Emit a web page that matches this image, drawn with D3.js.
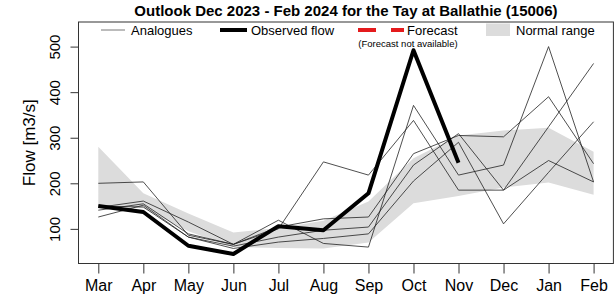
<!DOCTYPE html>
<html>
<head>
<meta charset="utf-8">
<script src="https://cdnjs.cloudflare.com/ajax/libs/d3/7.8.5/d3.min.js"></script>
<style>
  body { margin: 0; background: #fff; }
  svg { font-family: 'Liberation Sans', Arial, sans-serif; }
</style>
</head>
<body>
<svg id="chart" width="614" height="301"></svg>
<script>
let months = ['Mar', 'Apr', 'May', 'Jun', 'Jul', 'Aug', 'Sep', 'Oct', 'Nov', 'Dec', 'Jan', 'Feb']
let yTicks = [100, 200, 300, 400, 500]

let observed = [150, 137, 63, 45, 106, 97, 178, 492, 245]

let normalUpper = [280, 178, 134, 92, 102, 118, 160, 255, 305, 316, 322, 269]
let normalLower = [150, 145, 95, 60, 58, 57, 70, 156, 172, 191, 202, 175]

let analogue1 = [200, 203, 86, 66, 119, 68, 60, 371, 218, 240, 500, 203]
let analogue2 = [147, 161, 115, 66, 100, 247, 218, 338, 185, 185, 324, 463]
let analogue3 = [141, 155, 89, 66, 104, 122, 126, 265, 305, 302, 390, 243]
let analogue4 = [126, 152, 82, 62, 82, 97, 104, 240, 309, 185, 250, 203]
let analogue5 = [150, 148, 82, 57, 71, 79, 89, 205, 290, 111, 224, 335]
let analogues = [analogue1, analogue2, analogue3, analogue4, analogue5]

let svg = d3.select('#chart')
let box = { left: 78.5, right: 613.4, top: 22, bottom: 263.5 }

let x = d3.scaleLinear().domain([0.56, 12.44]).range([box.left, box.right])
let y = d3.scaleLinear().domain([24, 554]).range([box.bottom, box.top])

// normal range band
let band = d3.area()
  .x((d, i) => x(i + 1))
  .y0((d, i) => y(normalLower[i]))
  .y1(d => y(d))

svg.append('path')
  .datum(normalUpper)
  .attr('d', band)
  .attr('fill', '#dcdcdc')

let line = d3.line()
  .x((d, i) => x(i + 1))
  .y(d => y(d))

svg.append('g')
  .selectAll('path')
  .data(analogues)
  .enter()
  .append('path')
  .attr('d', line)
  .attr('fill', 'none')
  .attr('stroke', '#222')
  .attr('stroke-width', 0.8)

svg.append('path')
  .datum(observed)
  .attr('d', line)
  .attr('fill', 'none')
  .attr('stroke', '#000')
  .attr('stroke-width', 4)
  .attr('stroke-linejoin', 'round')

// axes
let xAxis = d3.axisBottom(x)
  .tickValues(d3.range(1, 13))
  .tickFormat(d => months[d - 1])
  .tickSize(10)
  .tickPadding(6)

let gx = svg.append('g')
  .attr('transform', `translate(0, ${box.bottom})`)
  .call(xAxis)
gx.select('.domain').remove()
gx.selectAll('line').attr('stroke', '#333')
gx.selectAll('text').attr('font-size', 16).attr('fill', '#000')

let yAxis = d3.axisLeft(y)
  .tickValues(yTicks)
  .tickSize(8)
  .tickPadding(4)

let gy = svg.append('g')
  .attr('transform', `translate(${box.left}, 0)`)
  .call(yAxis)
gy.select('.domain').remove()
gy.selectAll('line').attr('stroke', '#333')
gy.selectAll('text')
  .attr('font-size', 15)
  .attr('fill', '#000')
  .attr('text-anchor', 'middle')
  .attr('x', null)
  .attr('dy', null)
  .attr('transform', 'translate(-19, 0) rotate(-90)')

svg.append('rect')
  .attr('x', box.left)
  .attr('y', box.top)
  .attr('width', box.right - box.left)
  .attr('height', box.bottom - box.top)
  .attr('fill', 'none')
  .attr('stroke', '#333')

svg.append('text')
  .attr('transform', `translate(35, ${(box.top + box.bottom) / 2}) rotate(-90)`)
  .attr('text-anchor', 'middle')
  .attr('font-size', 17)
  .text('Flow [m3/s]')

svg.append('text')
  .attr('x', (box.left + box.right) / 2)
  .attr('y', 15.5)
  .attr('text-anchor', 'middle')
  .attr('font-size', 15)
  .attr('font-weight', 'bold')
  .text('Outlook Dec 2023 - Feb 2024 for the Tay at Ballathie (15006)')

// legend
let legend = svg.append('g')
legend.append('line')
  .attr('x1', 101).attr('x2', 125).attr('y1', 30).attr('y2', 30)
  .attr('stroke', '#555').attr('stroke-width', 0.8)
legend.append('text').attr('x', 131).attr('y', 34.5).attr('font-size', 13).text('Analogues')

legend.append('line')
  .attr('x1', 220).attr('x2', 247).attr('y1', 30).attr('y2', 30)
  .attr('stroke', '#000').attr('stroke-width', 4)
legend.append('text').attr('x', 251).attr('y', 34.5).attr('font-size', 13).text('Observed flow')

legend.append('line')
  .attr('x1', 358).attr('x2', 404).attr('y1', 30).attr('y2', 30)
  .attr('stroke', '#e41a1c').attr('stroke-width', 4)
  .attr('stroke-dasharray', '18 15')
legend.append('text').attr('x', 407).attr('y', 34.5).attr('font-size', 13).text('Forecast')
legend.append('text').attr('x', 408).attr('y', 46.5).attr('font-size', 9.5)
  .attr('text-anchor', 'middle').text('(Forecast not available)')

legend.append('rect')
  .attr('x', 486).attr('y', 23.5).attr('width', 24).attr('height', 12.5)
  .attr('fill', '#dcdcdc')
legend.append('text').attr('x', 516).attr('y', 34.5).attr('font-size', 13).text('Normal range')
</script>
</body>
</html>
